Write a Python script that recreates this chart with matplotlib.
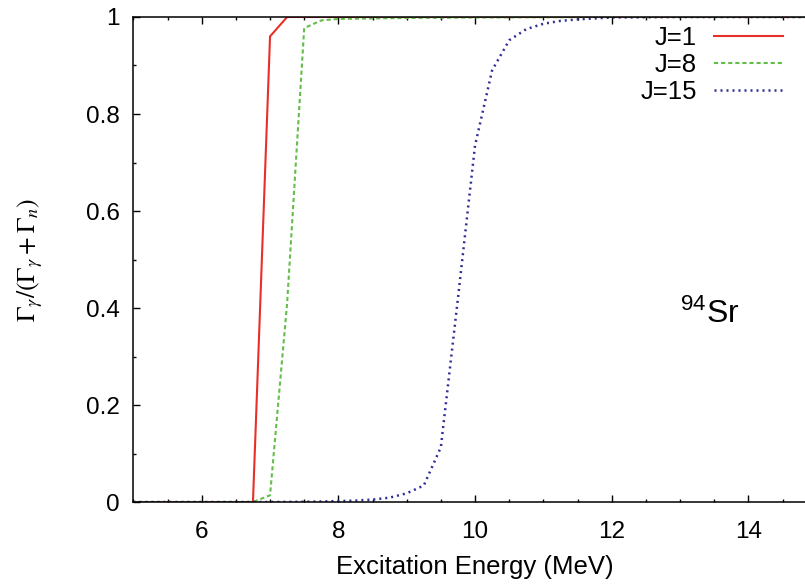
import matplotlib
matplotlib.use('Agg')
from matplotlib import pyplot as plt
from matplotlib.ticker import MultipleLocator

# энергии возбуждения (МэВ) и отношения ширин для трех значений спина
e_j1 = [5.0, 6.0, 6.75, 7.0, 7.25, 8.0, 10.0, 12.0, 15.0]
r_j1 = [0.0, 0.0, 0.0, 0.96, 1.0, 1.0, 1.0, 1.0, 1.0]

e_j8 = [5.0, 6.0, 6.75, 7.0, 7.25, 7.5, 7.75, 8.0, 9.0, 10.0, 12.0, 15.0]
r_j8 = [0.0, 0.0, 0.0, 0.014, 0.41, 0.977, 0.993, 0.996, 0.998, 0.999, 1.0, 1.0]

e_j15 = [5.0, 7.0, 7.5, 7.75, 8.0, 8.25, 8.5, 8.75, 9.0, 9.25, 9.5, 9.75,
         10.0, 10.25, 10.5, 10.75, 11.0, 11.25, 11.5, 12.0, 13.0, 15.0]
r_j15 = [0.0, 0.0, 0.0005, 0.001, 0.002, 0.003, 0.005, 0.009, 0.018, 0.034,
         0.113, 0.42, 0.735, 0.89, 0.952, 0.975, 0.986, 0.992, 0.995, 0.999,
         1.0, 1.0]

labels = ['J=1', 'J=8', 'J=15']
xticks = [6, 8, 10, 12, 14]
yticks = [0, 0.2, 0.4, 0.6, 0.8, 1]
ytick_labels = ['0', '0.2', '0.4', '0.6', '0.8', '1']

plt.rcParams['font.family'] = ['Liberation Sans', 'DejaVu Sans']
plt.rcParams['mathtext.fontset'] = 'custom'
plt.rcParams['mathtext.rm'] = 'Liberation Sans'
plt.rcParams['mathtext.it'] = 'Liberation Sans:italic'

fig = plt.figure(figsize=(8.05, 5.86), dpi=100)
ax = fig.add_axes([0.1657, 0.1433, 1.0145 - 0.1657, 0.971 - 0.1433])

ax.plot(e_j1, r_j1, color='#e8302a', lw=1.5, label=labels[0])
ax.plot(e_j8, r_j8, color='#62bd4a', lw=1.5, dashes=(2, 1.4), label=labels[1])
ax.plot(e_j15, r_j15, color='#2e2e94', lw=1.8, dashes=(0.8, 1.6), label=labels[2])

ax.set_xlim(5, 15)
ax.set_ylim(0, 1)
ax.set_xticks(xticks)
ax.set_yticks(yticks)
ax.set_yticklabels(ytick_labels)
ax.xaxis.set_minor_locator(MultipleLocator(0.5))
ax.yaxis.set_minor_locator(MultipleLocator(0.1))
ax.tick_params(which='both', direction='in', top=True, right=True,
               labelsize=17.5, width=1.0)
ax.tick_params(which='major', length=5)
ax.tick_params(which='minor', length=2.5)
ax.tick_params(axis='x', which='major', pad=14)
ax.tick_params(axis='y', which='major', pad=10)
for s in ax.spines.values():
    s.set_linewidth(1.1)

ax.set_xlabel('Excitation Energy (MeV)', fontsize=18.5)
ax.xaxis.set_label_coords(0.5, -0.11)
ax.set_ylabel(r'$\Gamma_\gamma/(\Gamma_\gamma+\Gamma_n)$', fontsize=18.5,
              math_fontfamily='stix')
ax.yaxis.set_label_coords(-0.13, 0.5)

ax.text(0.845, 0.449, r'$^{94}$Sr', transform=fig.transFigure, fontsize=23)

leg = ax.legend(loc='upper right', bbox_to_anchor=(783 / 805, 1 - 26 / 586),
                bbox_transform=fig.transFigure, frameon=False, markerfirst=False,
                fontsize=18.5, handlelength=2.7, handletextpad=0.65,
                labelspacing=0.11, borderpad=0, borderaxespad=0)
for t in leg.get_texts():
    t.set_ha('right')

fig.savefig('out.png', dpi=100)
